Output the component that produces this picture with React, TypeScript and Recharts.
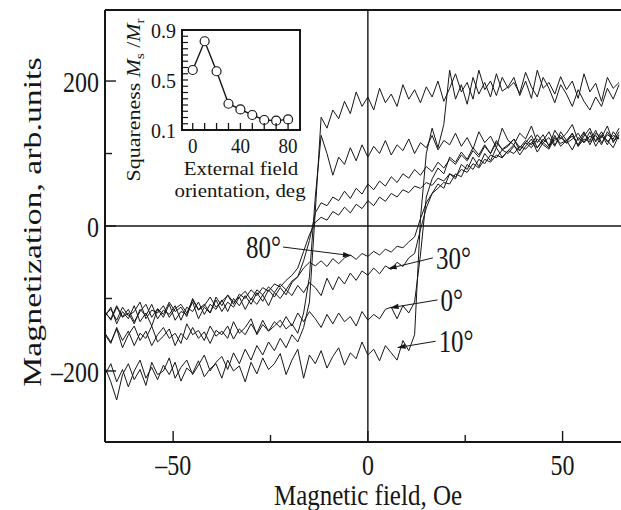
import { LineChart, Line, XAxis, YAxis, ReferenceLine, ReferenceArea } from "recharts";

const SERIF = '"Liberation Serif", "Times New Roman", serif';
const INK = "#161616";
const STRETCH = 1.25; // the original main-plot typesetting is taller than wide
const INSET_STRETCH = 1.05;

// applied field, Oe (common grid for all branches)
const fieldOe = [
  -67.5, -66, -64.5, -63, -61.5, -60, -58.5, -57, -55.5, -54, -52.5, -51, -49.5, -48, -46.5,
  -45, -43.5, -42, -40.5, -39, -37.5, -36, -34.5, -33, -31.5, -30, -28.5, -27, -25.5, -24,
  -22.5, -21, -19.5, -18, -16.5, -15, -13.5, -12, -10.5, -9, -7.5, -6, -4.5, -3, -1.5, 0,
  1.5, 3, 4.5, 6, 7.5, 9, 10.5, 12, 13.5, 15, 16.5, 18, 19.5, 21, 22.5, 24, 25.5, 27, 28.5,
  30, 31.5, 33, 34.5, 36, 37.5, 39, 40.5, 42, 43.5, 45, 46.5, 48, 49.5, 51, 52.5, 54, 55.5,
  57, 58.5, 60, 61.5, 63, 64.5,
];

// magnetization, arb. units — lower (rising field) and upper (falling field) branches
const lower10 = [
  -205, -190, -215, -198, -222, -200, -185, -210, -195, -212,
  -192, -205, -188, -214, -196, -203, -186, -208, -197, -190,
  -210, -185, -200, -193, -215, -188, -204, -182, -198, -190,
  -176, -205, -185, -170, -210, -178, -190, -172, -196, -180,
  -168, -192, -175, -183, -160, -178, -170, -186, -165, -175,
  -185, -158, -172, -150, 10, 100, 135, 108, 140, 215,
  175, 195, 168, 205, 182, 198, 178, 210, 186, 192,
  205, 180, 200, 176, 215, 190, 198, 182, 206, 188,
  200, 176, 210, 185, 197, 172, 205, 190, 198,
];
const upper10 = [
  -195, -215, -240, -205, -190, -212, -198, -220, -188, -205,
  -200, -182, -210, -195, -185, -205, -192, -178, -200, -188,
  -180, -198, -175, -190, -170, -185, -165, -178, -160, -172,
  -155, -168, -150, -160, -140, -105, 20, 150, 135, 160,
  148, 172, 155, 185, 165, 178, 160, 190, 170, 182,
  165, 195, 175, 188, 170, 192, 178, 200, 172, 190,
  210, 185, 198, 175, 215, 188, 200, 180, 205, 190,
  198, 183, 212, 192, 178, 205, 190, 170, 195, 182,
  165, 188, 172, 160, 178, 165, 190, 175, 195,
];
const lower0 = [
  -150, -162, -140, -158, -145, -165, -148, -155, -138, -160,
  -152, -142, -165, -148, -157, -140, -155, -146, -162, -144,
  -150, -138, -156, -142, -150, -135, -148, -130, -145, -132,
  -140, -125, -138, -120, -132, -118, -128, -140, -122, -135,
  -120, -132, -125, -138, -118, -130, -122, -128, -115, -112,
  -128, -110, -120, -105, -40, 40, 65, 80, 72, 95,
  88, 102, 92, 108, 98, 112, 100, 118, 105, 110,
  120, 104, 115, 125, 108, 118, 130, 112, 122, 115,
  128, 110, 124, 135, 116, 126, 112, 130, 120,
];
const upper0 = [
  -148, -160, -142, -168, -150, -138, -158, -145, -165, -150,
  -140, -155, -148, -162, -135, -150, -144, -158, -138, -152,
  -145, -155, -132, -148, -140, -128, -150, -136, -145, -138,
  -130, -142, -135, -148, -120, -70, 40, 125, 100, 70,
  95, 85, 108, 90, 112, 95, 110, 100, 118, 98,
  112, 104, 120, 100, 115, 108, 125, 105, 118, 112,
  128, 110, 122, 106, 130, 115, 124, 108, 135, 118,
  112, 128, 120, 138, 115, 126, 110, 132, 120, 128,
  140, 118, 130, 112, 128, 122, 138, 115, 130,
];
const lower30 = [
  -125, -112, -135, -118, -128, -110, -132, -120, -138, -115,
  -126, -108, -130, -118, -122, -105, -128, -112, -120, -102,
  -118, -105, -112, -98, -115, -100, -108, -95, -110, -92,
  -100, -88, -96, -82, -92, -78, -85, -96, -72, -88,
  -70, -80, -65, -75, -62, -68, -58, -66, -55, -60,
  -50, -56, -44, -38, -5, 25, 45, 58, 52, 72,
  65, 85, 78, 95, 82, 100, 90, 108, 95, 104,
  112, 98, 110, 120, 102, 115, 108, 125, 110, 118,
  105, 122, 115, 130, 110, 124, 118, 108, 126,
];
const upper30 = [
  -118, -130, -112, -126, -120, -135, -115, -124, -108, -128,
  -116, -122, -110, -130, -112, -118, -105, -122, -108, -115,
  -102, -118, -100, -110, -96, -108, -92, -104, -88, -98,
  -85, -95, -78, -70, -48, -20, 18, 32, 28, 40,
  35, 48, 38, 52, 44, 58, 50, 62, 55, 68,
  60, 72, 66, 78, 70, 82, 75, 88, 80, 92,
  85, 98, 90, 104, 95, 110, 100, 115, 106, 112,
  120, 108, 118, 112, 126, 115, 122, 110, 130, 118,
  124, 112, 128, 118, 132, 115, 126, 120, 135,
];
const lower80 = [
  -120, -128, -110, -125, -115, -132, -118, -108, -126, -114,
  -122, -105, -118, -112, -125, -100, -115, -108, -120, -98,
  -110, -95, -105, -98, -90, -102, -88, -95, -84, -92,
  -80, -88, -76, -70, -58, -50, -55, -48, -56, -45,
  -52, -44, -40, -46, -38, -42, -35, -40, -32, -36,
  -28, -30, -22, -15, 10, 32, 45, 52, 60, 58,
  72, 68, 85, 78, 92, 86, 98, 94, 105, 100,
  110, 104, 115, 108, 120, 112, 106, 122, 114, 118,
  128, 110, 120, 116, 125, 112, 130, 118, 122,
];
const upper80 = [
  -122, -115, -130, -112, -124, -118, -105, -128, -116, -120,
  -110, -126, -114, -108, -120, -102, -116, -110, -98, -112,
  -104, -96, -108, -94, -100, -88, -96, -85, -90, -80,
  -84, -75, -68, -58, -35, -12, 5, 12, 8, 20,
  15, 26, 18, 30, 24, 35, 28, 40, 34, 45,
  40, 50, 46, 55, 52, 60, 56, 66, 62, 72,
  68, 78, 74, 86, 80, 92, 88, 98, 94, 104,
  100, 110, 106, 115, 108, 120, 112, 118, 125, 114,
  120, 128, 115, 124, 118, 130, 116, 125, 120,
];

const fieldTicks = [-50, -25, 0, 25, 50];
const fieldTickLabels = ["\u201350", "", "0", "", "50"];
const magTicks = [-200, -100, 0, 100, 200];
const magTickLabels = ["\u2013200", "", "0", "", "200"];

// inset: squareness vs. field orientation
const orientationDeg = [0, 10, 20, 30, 40, 50, 60, 70, 80];
const squareness = [0.58, 0.81, 0.57, 0.31, 0.265, 0.22, 0.18, 0.175, 0.185];
const orientTicks = [0, 10, 20, 30, 40, 50, 60, 70, 80];
const orientTickLabels = ["0", "", "", "", "40", "", "", "", "80"];
const squareTicks = [0.1, 0.15, 0.2, 0.25, 0.3, 0.35, 0.4, 0.45, 0.5, 0.55, 0.6, 0.65, 0.7, 0.75, 0.8, 0.85, 0.9];
const squareTickLabels = ["0.1", "", "", "", "", "", "", "", "0.5", "", "", "", "", "", "", "", "0.9"];

// arrow labels: text, arrow tail, arrow tip (Oe, arb. units)
const annotations = [
  { text: "80°", from: [-21.8, -29], to: [-4.1, -41], anchor: "end" },
  { text: "30°", from: [16.7, -44], to: [5.1, -59], anchor: "start" },
  { text: "0°", from: [17.9, -102], to: [5.6, -113], anchor: "start" },
  { text: "10°", from: [17.4, -159], to: [7.4, -168], anchor: "start" },
];

const branches = [
  { key: "l10", values: lower10 },
  { key: "u10", values: upper10 },
  { key: "l0", values: lower0 },
  { key: "u0", values: upper0 },
  { key: "l30", values: lower30 },
  { key: "u30", values: upper30 },
  { key: "l80", values: lower80 },
  { key: "u80", values: upper80 },
];

const loopRows = fieldOe.map((h, i) => {
  const row: Record<string, number> = { h };
  branches.forEach((b) => (row[b.key] = b.values[i]));
  return row;
});

const insetRows = orientationDeg.map((deg, i) => ({ deg, sq: squareness[i] }));

// text scaled about its baseline origin (sx wide, sy tall)
function Tall(props: any) {
  const { x, y, size, anchor = "middle", sx = 1, sy = STRETCH, children } = props;
  return (
    <text
      transform={`translate(${x},${y}) scale(${sx},${sy})`}
      textAnchor={anchor}
      fontFamily={SERIF}
      fontSize={size}
      fill={INK}
    >
      {children}
    </text>
  );
}

function FieldTick(props: any) {
  const { x, y, payload } = props;
  const label = fieldTickLabels[fieldTicks.indexOf(payload.value)] ?? "";
  return (
    <g>
      <line x1={x} y1={y} x2={x} y2={y - (label ? 11 : 7)} stroke={INK} strokeWidth={1.4} />
      {label && (
        <Tall x={x} y={y + 33} size={24}>
          {label}
        </Tall>
      )}
    </g>
  );
}

function MagTick(props: any) {
  const { x, y, payload } = props;
  const label = magTickLabels[magTicks.indexOf(payload.value)] ?? "";
  return (
    <g>
      <line x1={x} y1={y} x2={x + (label ? 11 : 7)} y2={y} stroke={INK} strokeWidth={1.4} />
      {label && (
        <Tall x={x - 6} y={y + 11} size={24} anchor="end">
          {label}
        </Tall>
      )}
    </g>
  );
}

function OrientTick(props: any) {
  const { x, y, payload } = props;
  const label = orientTickLabels[orientTicks.indexOf(payload.value)] ?? "";
  return (
    <g>
      <line x1={x} y1={y} x2={x} y2={y - 7} stroke={INK} strokeWidth={1.3} />
      {label && (
        <Tall x={x} y={y + 23} size={19} sy={INSET_STRETCH}>
          {label}
        </Tall>
      )}
    </g>
  );
}

function SquareTick(props: any) {
  const { x, y, payload } = props;
  const i = squareTicks.findIndex((t) => Math.abs(t - payload.value) < 1e-6);
  const label = squareTickLabels[i] ?? "";
  return (
    <g>
      <line x1={x} y1={y} x2={x + 6} y2={y} stroke={INK} strokeWidth={1.2} />
      {label && (
        <Tall x={x - 6} y={y + 8} size={20} anchor="end" sy={INSET_STRETCH}>
          {label}
        </Tall>
      )}
    </g>
  );
}

function Arrow(props: any) {
  const { x1, y1, x2, y2, note } = props;
  const dx = x2 - x1;
  const dy = y2 - y1;
  const len = Math.hypot(dx, dy) || 1;
  const ux = dx / len;
  const uy = dy / len;
  const bx = x2 - ux * 9;
  const by = y2 - uy * 9;
  const head = `${x2},${y2} ${bx - uy * 2.6},${by + ux * 2.6} ${bx + uy * 2.6},${by - ux * 2.6}`;
  const tx = note.anchor === "end" ? x1 - 2 : x1 + 3;
  return (
    <g>
      <line x1={x1} y1={y1} x2={bx} y2={by} stroke={INK} strokeWidth={1} />
      <polygon points={head} fill={INK} />
      <Tall x={tx} y={y1 + 11} size={25} anchor={note.anchor}>
        {note.text}
      </Tall>
    </g>
  );
}

export default function App() {
  return (
    <div style={{ position: "absolute", left: 0, top: 0, width: 621, height: 510, background: "#fff" }}>
      <LineChart width={621} height={510} data={loopRows} margin={{ top: 10, right: 0, bottom: 0, left: 0 }}>
        <XAxis
          type="number"
          dataKey="h"
          domain={[-67.5, 65]}
          ticks={fieldTicks}
          interval={0}
          allowDataOverflow
          height={68}
          tickSize={0}
          tickMargin={0}
          tickLine={false}
          axisLine={{ stroke: INK, strokeWidth: 2 }}
          tick={(p: any) => <FieldTick {...p} />}
        />
        <YAxis
          type="number"
          domain={[-298, 298]}
          ticks={magTicks}
          interval={0}
          allowDataOverflow
          width={105}
          tickSize={0}
          tickMargin={0}
          tickLine={false}
          axisLine={{ stroke: INK, strokeWidth: 2 }}
          tick={(p: any) => <MagTick {...p} />}
        />
        <ReferenceLine y={298} stroke={INK} strokeWidth={2} />
        <ReferenceLine x={0} stroke={INK} strokeWidth={1.4} />
        <ReferenceLine y={0} stroke={INK} strokeWidth={1.4} />
        {branches.map((b) => (
          <Line
            key={b.key}
            dataKey={b.key}
            type="linear"
            stroke={INK}
            strokeWidth={1}
            dot={false}
            isAnimationActive={false}
          />
        ))}
        {annotations.map((a) => (
          <ReferenceLine
            key={a.text}
            segment={[
              { x: a.from[0], y: a.from[1] },
              { x: a.to[0], y: a.to[1] },
            ]}
            ifOverflow="visible"
            shape={(p: any) => <Arrow {...p} note={a} />}
          />
        ))}
      </LineChart>

      <div style={{ position: "absolute", left: 0, top: 0 }}>
        <LineChart width={621} height={510} data={insetRows} margin={{ top: 30, right: 321, bottom: 379, left: 181 }}>
          <XAxis
            type="number"
            dataKey="deg"
            domain={[-9, 90]}
            ticks={orientTicks}
            interval={0}
            height={1}
            tickSize={0}
            tickMargin={0}
            tickLine={false}
            axisLine={false}
            tick={(p: any) => <OrientTick {...p} />}
          />
          <YAxis
            type="number"
            domain={[0.1, 0.9]}
            ticks={squareTicks}
            interval={0}
            width={1}
            tickSize={0}
            tickMargin={0}
            tickLine={false}
            axisLine={false}
            tick={(p: any) => <SquareTick {...p} />}
          />
          <ReferenceArea x1={-9} x2={90} y1={0.1} y2={0.9} fill="none" stroke={INK} strokeWidth={2} />
          <Line
            dataKey="sq"
            type="linear"
            stroke={INK}
            strokeWidth={1.4}
            dot={{ r: 4.5, fill: "#fff", stroke: INK, strokeWidth: 1.2 }}
            isAnimationActive={false}
          />
        </LineChart>
      </div>

      <svg width={621} height={510} style={{ position: "absolute", left: 0, top: 0, pointerEvents: "none" }}>
        <text
          transform={`translate(41,222) rotate(-90) scale(1.3,1)`}
          textAnchor="middle"
          fontFamily={SERIF}
          fontSize={26}
          fill={INK}
        >
          Magnetization, arb.units
        </text>
        <Tall x={368} y={505} size={25} sy={1.15}>
          Magnetic field, Oe
        </Tall>
        <Tall x={241} y={175} size={19} sx={1.1} sy={1}>
          External field
        </Tall>
        <Tall x={240} y={197} size={19} sx={1.1} sy={1}>
          orientation, deg
        </Tall>
        <text
          transform={`translate(140,100) rotate(-90) scale(1.22,1)`}
          textAnchor="middle"
          fontFamily={SERIF}
          fontSize={18}
          fill={INK}
        >
          Squareness <tspan fontStyle="italic">M</tspan>
          <tspan fontSize={12} dy={4}>s</tspan>
          <tspan dy={-4}> /</tspan>
          <tspan fontStyle="italic">M</tspan>
          <tspan fontSize={12} dy={4}>r</tspan>
        </text>
      </svg>
    </div>
  );
}
